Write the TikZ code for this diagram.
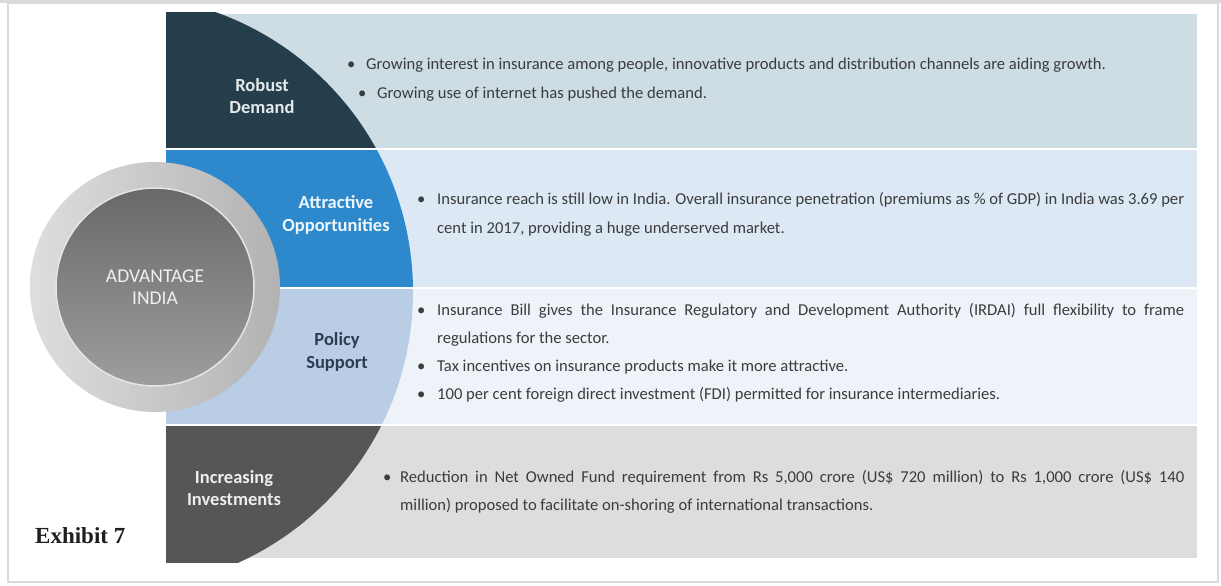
\documentclass[tikz,border=0pt]{standalone}
\usepackage{fontspec}
\setmainfont{Carlito}
\newfontfamily\exhibitfont{Liberation Serif}

\definecolor{framec}{HTML}{DADADA}
\definecolor{bodyc}{HTML}{3C3C3C}
% band backgrounds
\definecolor{bgA}{HTML}{CDDDE3}
\definecolor{bgB}{HTML}{DCE9F5}
\definecolor{bgC}{HTML}{EEF3F9}
\definecolor{bgD}{HTML}{DDDDDD}
% quarter-disc segments
\definecolor{segA}{HTML}{243F4B}
\definecolor{segB}{HTML}{2D89CC}
\definecolor{segC}{HTML}{B9CDE5}
\definecolor{segD}{HTML}{565656}
\definecolor{policyc}{HTML}{2A3D52}

\newcommand\bulletmark[1]{\makebox[#1][l]{•}}

\begin{document}
\begin{tikzpicture}[x=1pt,y=-1pt,
  bodytext/.style={anchor=mid west, inner sep=0pt, text=bodyc,
    font=\fontsize{16.6}{19}\selectfont},
  seglabel/.style={align=center, inner sep=0pt,
    font=\bfseries\fontsize{18.5}{22.5}\selectfont},
  bandline/.style={draw=white, line width=1.4pt}]

\useasboundingbox (0,0) rectangle (1221,586);
\fill[white] (0,0) rectangle (1221,586);

% page frame
\fill[framec] (0,0) rectangle (1221,3);
\draw[framec, line width=1.5pt] (8,3) rectangle (1218,582);

% band backgrounds
\fill[bgA] (166,14) rectangle (1197,149);
\fill[bgB] (166,149) rectangle (1197,288);
\fill[bgC] (166,288) rectangle (1197,425);
\fill[bgD] (166,425) rectangle (1197,558);

% quarter-disc segments: one big circle cut by each band
\begin{scope}
  \clip (166,13) rectangle (1197,149);
  \fill[segA] (116,292) circle[radius=297pt];
\end{scope}
\begin{scope}
  \clip (166,149) rectangle (1197,288);
  \fill[segB] (116,292) circle[radius=297pt];
\end{scope}
\begin{scope}
  \clip (166,288) rectangle (1197,425);
  \fill[segC] (116,292) circle[radius=297pt];
\end{scope}
\begin{scope}
  \clip (166,425) rectangle (1197,562);
  \fill[segD] (116,292) circle[radius=297pt];
\end{scope}

% separators between bands
\draw[bandline] (166,149) -- (1197,149);
\draw[bandline] (166,288) -- (1197,288);
\draw[bandline] (166,425) -- (1197,425);

% central badge
\node[circle, minimum size=250pt, inner sep=0pt, shade,
      left color=black!13, right color=black!30] (ring) at (155,287) {};
\node[circle, minimum size=198pt, inner sep=0pt, shade,
      top color=black!59, bottom color=black!38,
      draw=black!10, line width=1.5pt,
      align=center, text=black!6,
      font=\fontsize{19.5}{22.5}\selectfont] (core) at (155,287) {ADVANTAGE\\INDIA};

% segment labels
\node[seglabel, text=white!88!segA] (robust) at (262,96) {Robust\\Demand};
\node[seglabel, text=white!92!segB] (attract) at (336,215) {Attractive\\Opportunities};
\node[seglabel, text=policyc] (policy) at (337,352) {Policy\\Support};
\node[seglabel, text=white!90!segD] (invest) at (234,488) {Increasing\\Investments};

% band 1
\node[bodytext] (dA) at (347,67) {\bulletmark{19pt}Growing interest in insurance among people, innovative products and distribution channels are aiding growth.};
\node[bodytext] (dB) at (358,96) {\bulletmark{19pt}Growing use of internet has pushed the demand.};

% band 2
\node[bodytext] (oA) at (417,202) {\bulletmark{20pt}\makebox[747pt][s]{Insurance reach is still low in India. Overall insurance penetration (premiums as \% of GDP) in India was 3.69 per}};
\node[bodytext] (oB) at (437,231) {cent in 2017, providing a huge underserved market.};

% band 3
\node[bodytext] (pA) at (417,313) {\bulletmark{20pt}\makebox[747pt][s]{Insurance Bill gives the Insurance Regulatory and Development Authority (IRDAI) full flexibility to frame}};
\node[bodytext] (pB) at (437,341) {regulations for the sector.};
\node[bodytext] (pC) at (417,369) {\bulletmark{20pt}Tax incentives on insurance products make it more attractive.};
\node[bodytext] (pD) at (417,397) {\bulletmark{20pt}100 per cent foreign direct investment (FDI) permitted for insurance intermediaries.};

% band 4
\node[bodytext] (iA) at (383,480) {\bulletmark{17pt}\makebox[784pt][s]{Reduction in Net Owned Fund requirement from Rs 5,000 crore (US\$ 720 million) to Rs 1,000 crore (US\$ 140}};
\node[bodytext] (iB) at (400,508) {million) proposed to facilitate on-shoring of international transactions.};

% caption
\node[anchor=mid west, inner sep=0pt, text=black!88,
      font=\exhibitfont\bfseries\fontsize{23}{26}\selectfont] (exhibit) at (35,541) {Exhibit 7};
\end{tikzpicture}
\end{document}
